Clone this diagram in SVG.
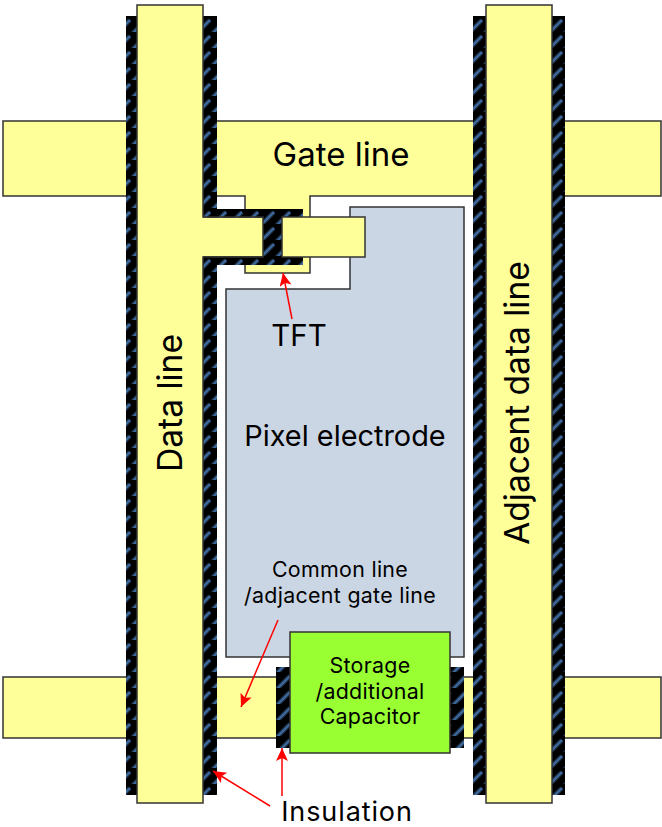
<svg xmlns="http://www.w3.org/2000/svg" width="662" height="827" viewBox="0 0 662 827">
<style>
.y{fill:#ffff99;stroke:#333;stroke-width:1.5}
.p{fill:#cbd6e4;stroke:#333;stroke-width:1.5}
.g{fill:#99ff33;stroke:#333;stroke-width:1.5}
.i{fill:url(#hatch)}
.t{font-family:"Inter","Noto Sans",sans-serif;fill:#000;text-anchor:middle}
.s{font-size:21.4px;letter-spacing:.3px}
.a{fill:none;stroke:#f00;stroke-width:1.5;marker-end:url(#arr)}
</style>
<defs>
<pattern id="hatch" width="16" height="16" patternUnits="userSpaceOnUse" patternTransform="translate(126 16)">
<rect width="16" height="16" fill="#000"/>
<path d="M-4 12 L4 4 M4 20 L20 4 M12 -4 L20 -12" stroke="#1c3048" stroke-width="4.5" fill="none"/>
<path d="M-4 12 L4 4 M4 20 L20 4 M12 -4 L20 -12" stroke="#3f6a9e" stroke-width="2" fill="none"/>
</pattern>
<marker id="arr" markerUnits="userSpaceOnUse" markerWidth="14" markerHeight="14" refX="13" refY="6" orient="auto">
<path d="M0 0 L13 6 L0 12 L3 6 Z" fill="#f00"/>
</marker>
</defs>
<rect width="662" height="827" fill="#fff"/>
<g id="gate-line">
<path class="y" d="M3 121H661V196H310V273H245V196H3Z"/>
</g>
<g id="common-line">
<rect class="y" x="3" y="677" width="658" height="61"/>
</g>
<g id="pixel-electrode">
<path class="p" d="M350 207H464V657H226V289H350Z"/>
</g>
<g id="tft-insulation">
<rect class="i" x="203" y="209" width="100" height="56"/>
</g>
<g id="data-line">
<rect class="i" x="126" y="16" width="91" height="779"/>
<rect class="y" x="137" y="5" width="66" height="798"/>
<rect x="138" y="217.7" width="125" height="38.6" fill="#ffff99"/>
<path d="M203 217H263V257H203" fill="none" stroke="#333" stroke-width="1.5"/>
</g>
<g id="drain">
<rect class="y" x="282" y="217" width="83" height="40"/>
</g>
<g id="adjacent-data-line">
<rect class="i" x="473" y="16" width="92" height="779"/>
<rect class="y" x="486" y="5" width="66" height="798"/>
</g>
<g id="capacitor">
<rect class="i" x="276" y="667" width="188" height="81"/>
<rect class="g" x="290" y="632" width="160" height="121"/>
</g>
<g id="connectors">
<path class="a" d="M292 319L283 273"/>
<path class="a" d="M278 620L241 707"/>
<path class="a" d="M282 796V748"/>
<path class="a" d="M270 806L213 771"/>
</g>
<g id="labels">
<text class="t" x="341" y="166" font-size="33">Gate line</text>
<text class="t" x="299" y="346" font-size="29.5">TFT</text>
<text class="t" x="345" y="446" font-size="28.9">Pixel electrode</text>
<text class="t s" x="340" y="577">Common line</text>
<text class="t s" x="340" y="603">/adjacent gate line</text>
<text class="t s" x="370" y="673">Storage</text>
<text class="t s" x="370" y="699">/additional</text>
<text class="t s" x="370" y="724">Capacitor</text>
<text class="t" x="347" y="820.5" font-size="27" letter-spacing=".9">Insulation</text>
<text class="t" transform="translate(182 403) rotate(-90)" font-size="33.5">Data line</text>
<text class="t" transform="translate(529 403) rotate(-90)" font-size="33.5">Adjacent data line</text>
</g>
</svg>
